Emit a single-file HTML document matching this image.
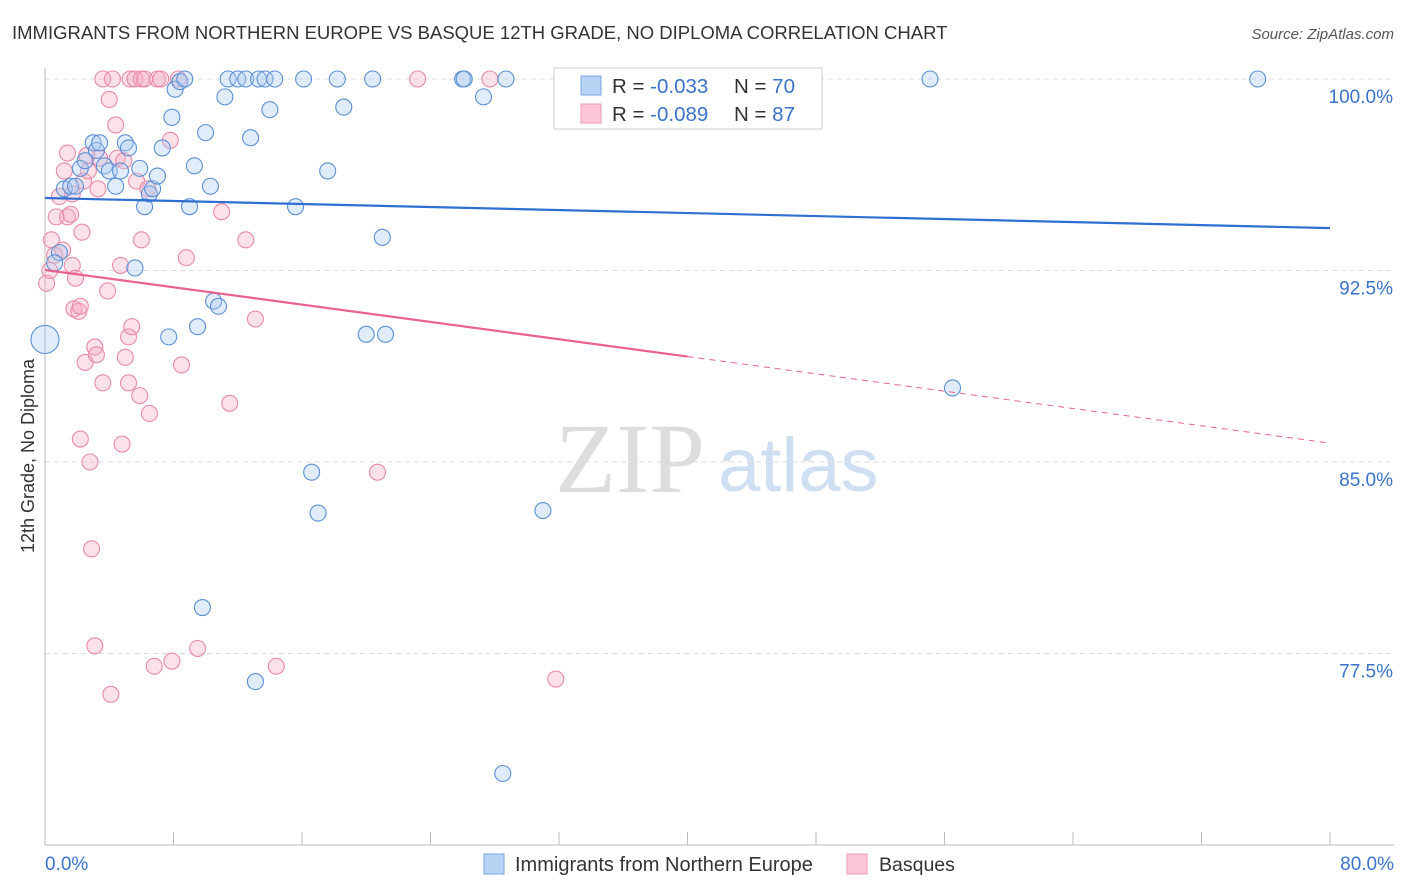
<!DOCTYPE html>
<html><head><meta charset="utf-8"><style>
body{margin:0;background:#fff;font-family:"Liberation Sans",sans-serif}
</style></head><body>
<svg width="1406" height="892" style="display:block">
<text x="12" y="39" font-size="18.5" fill="#333">IMMIGRANTS FROM NORTHERN EUROPE VS BASQUE 12TH GRADE, NO DIPLOMA CORRELATION CHART</text>
<text x="1394" y="39" font-size="15" fill="#555" font-style="italic" text-anchor="end">Source: ZipAtlas.com</text>
<text x="0" y="0" transform="translate(34,456) rotate(-90)" font-size="18" fill="#333" text-anchor="middle">12th Grade, No Diploma</text>
<text x="555" y="492" font-size="100" fill="#ddd" font-family="Liberation Serif,serif">ZIP</text>
<text x="718" y="491" font-size="76" fill="#cfdff2">atlas</text>
<g id="grid"></g><g id="axes"></g><g id="pts"></g><g id="trend"></g>
<g>
<rect x="554" y="68" width="268" height="61" fill="#fff" stroke="#ccc"/>
<rect x="581" y="76" width="20" height="19" fill="#b8d4f5" stroke="#7aa6e0"/>
<rect x="581" y="104" width="20" height="19" fill="#fbc5d6" stroke="#ee9ab5"/>
<text x="612" y="93" font-size="20.5" fill="#333">R = <tspan fill="#3a73c9">-0.033</tspan></text>
<text x="734" y="93" font-size="20.5" fill="#333">N = <tspan fill="#3a73c9">70</tspan></text>
<text x="612" y="121" font-size="20.5" fill="#333">R = <tspan fill="#3a73c9">-0.089</tspan></text>
<text x="734" y="121" font-size="20.5" fill="#333">N = <tspan fill="#3a73c9">87</tspan></text>
</g>
<g>
<rect x="484" y="854" width="20" height="20" fill="#b8d4f5" stroke="#7aa6e0"/>
<text x="515" y="871" font-size="20" fill="#333">Immigrants from Northern Europe</text>
<rect x="847" y="854" width="20" height="20" fill="#fbc5d6" stroke="#ee9ab5"/>
<text x="879" y="871" font-size="19.5" fill="#333">Basques</text>
</g>
</svg>
<script>
const yTicks=[100,92.5,85,77.5];
const yTickLabels=["100.0%","92.5%","85.0%","77.5%"];
const xTickLabels=["0.0%","80.0%"];
const blueX=[0,0.9,0.6,1.2,1.6,1.9,2.2,2.5,3.0,3.2,3.4,3.7,4.0,4.4,4.7,5.0,5.2,5.6,5.9,6.2,6.5,6.7,7.0,7.3,7.7,7.9,8.1,8.4,8.7,9.0,9.3,9.5,10.0,9.8,10.3,10.5,10.8,11.2,11.4,12.0,12.5,12.8,13.1,13.3,13.7,14.0,14.3,16.1,15.6,16.6,17.0,17.6,18.2,18.6,20.0,20.4,21.0,21.2,26.0,26.1,27.3,28.5,28.7,31.0,33.0,55.1,56.5,75.5];
const blueY=[89.8,93.2,92.8,95.7,95.8,95.8,96.5,96.8,97.5,97.2,97.5,96.6,96.4,95.8,96.4,97.5,97.3,92.6,96.5,95.0,95.5,95.7,96.2,97.3,89.9,98.5,99.6,99.9,100,95.0,96.6,90.3,97.9,79.3,95.8,91.3,91.1,99.3,100,100,100,97.7,76.4,100,100,98.8,100,100,95.0,84.6,83.0,96.4,100,98.9,90.0,100,93.8,90.0,100,100,99.3,72.8,100,83.1,100,100,87.9,100];
const pinkX=[0.1,0.3,0.4,0.6,0.7,0.9,1.1,1.2,1.4,1.4,1.6,1.7,1.7,1.8,1.9,2.1,2.2,2.3,2.2,2.4,2.5,2.6,2.7,2.8,2.9,3.1,3.1,3.2,3.3,3.4,3.6,3.6,3.9,4.0,4.1,4.2,4.4,4.5,4.7,4.8,4.9,5.0,5.2,5.2,5.3,5.4,5.6,5.7,5.9,6.0,6.0,6.2,6.4,6.5,6.8,7.0,7.2,7.8,7.9,8.3,8.5,8.8,9.5,11.0,11.5,12.5,13.1,14.4,20.7,23.2,27.7,31.8];
const pinkY=[92.0,92.5,93.7,93.1,94.6,95.4,93.3,96.4,94.6,97.1,94.7,95.5,92.7,91.0,92.2,90.9,91.1,94.0,85.9,96.0,88.9,97.0,96.4,85.0,81.6,77.8,89.5,89.2,95.7,96.9,88.1,100,91.7,99.2,75.9,100,98.2,96.9,92.7,85.7,96.8,89.1,89.9,88.1,100,90.3,100,96.0,87.6,100,93.7,100,95.7,86.9,77.0,100,100,97.6,77.2,100,88.8,93.0,77.7,94.8,87.3,93.7,90.6,77.0,84.6,100,100,76.5];
const blueTrend=[95.34,94.16];
const pinkTrend=[92.52,85.74];
const X=v=>45+v/80*1285, Y=v=>79+(100-v)*191.5/7.5;
const NS="http://www.w3.org/2000/svg";
function mk(p,t,a){const e=document.createElementNS(NS,t);for(const k in a)e.setAttribute(k,a[k]);document.getElementById(p).appendChild(e);return e;}
yTicks.forEach((t,i)=>{
 const l=mk('grid','line',{x1:45,x2:1394,y1:Y(t),y2:Y(t),stroke:'#ddd','stroke-dasharray':'5,4'});
 
 
 const tx=mk('grid','text',{x:1393,y:Y(t)+24,'font-size':19,fill:'#3a73c9','text-anchor':'end'});
 tx.textContent=yTickLabels[i];
 
 
});
const ax=mk('axes','line',{x1:45,x2:45,y1:68,y2:845,stroke:'#bbb'});


const bx=mk('axes','line',{x1:45,x2:1394,y1:845,y2:845,stroke:'#bbb'});


for(let i=0;i<=10;i++){const t=mk('axes','line',{x1:X(i*8),x2:X(i*8),y1:832,y2:845,stroke:'#bbb'});
 
 }
[[0,'start',45],[1,'end',1394]].forEach(([i,a,x])=>{const t=mk('axes','text',{x:x,y:870,'font-size':19,fill:'#3a73c9','text-anchor':a});t.textContent=xTickLabels[i];
 
 });
function pts(xs,ys,f,s,name){xs.forEach((x,i)=>{const c=mk('pts','circle',{cx:X(x),cy:Y(ys[i]),r:(i==0&&name=='blue-point')?14:8,fill:f,'fill-opacity':0.35,stroke:s,'stroke-width':1.1});
 
 });}
pts(pinkX,pinkY,'#f6a9c1','#e98aa8','pink-point');
pts(blueX,blueY,'#a9c8f0','#5b8fd6','blue-point');
const bt=mk('trend','line',{x1:X(0),y1:Y(blueTrend[0]),x2:X(80),y2:Y(blueTrend[1]),stroke:'#2f6fd0','stroke-width':2.2});


const pm=pinkTrend[0]+(pinkTrend[1]-pinkTrend[0])/2;
const pt=mk('trend','line',{x1:X(0),y1:Y(pinkTrend[0]),x2:X(40),y2:Y(pm),stroke:'#e8638f','stroke-width':2.2});


const pd=mk('trend','line',{x1:X(40),y1:Y(pm),x2:X(80),y2:Y(pinkTrend[1]),stroke:'#e8638f','stroke-width':1,'stroke-dasharray':'6,5'});


</script>
</body></html>
